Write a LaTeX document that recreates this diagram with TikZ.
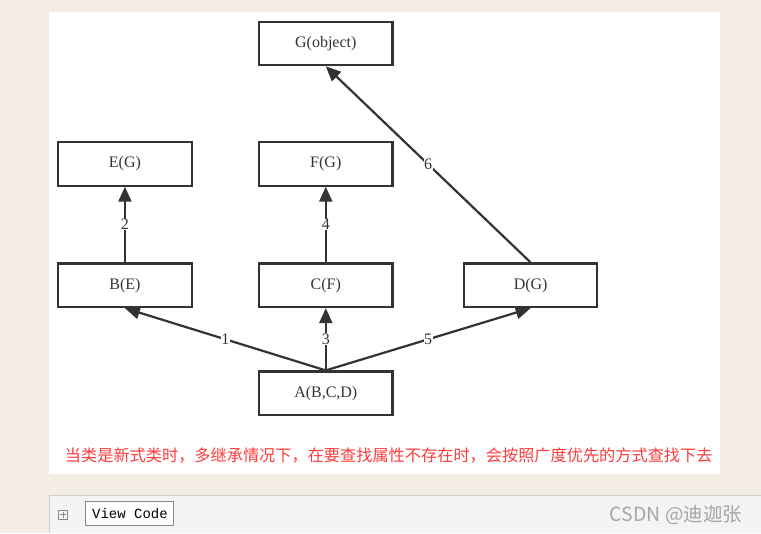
\documentclass[tikz,border=0pt]{standalone}
\usepackage{fontspec}
\setmainfont{Liberation Serif}
\setmonofont{Liberation Mono}
\newfontfamily\cjk{Noto Sans CJK SC}
\usetikzlibrary{arrows.meta}
\definecolor{pagebg}{HTML}{F4EDE4}
\definecolor{linedark}{HTML}{333333}
\definecolor{notered}{HTML}{FF3B3B}
\definecolor{barbg}{HTML}{F4F4F4}
\definecolor{barline}{HTML}{CCCCCC}
\definecolor{btnline}{HTML}{888888}
\definecolor{wmgray}{HTML}{A6A6A6}

\begin{document}
\begin{tikzpicture}[x=1pt,y=-1pt,
  cls/.style={rectangle,draw=linedark,fill=white,line width=2.2pt,minimum width=133.5pt,
              minimum height=43.5pt,inner sep=0pt,text=linedark,
              font=\fontsize{16}{19}\selectfont},
  arr/.style={-{Triangle[length=15pt,width=13pt]},line width=2.2pt,linedark},
  num/.style={fill=white,inner sep=0.5pt,text=linedark,font=\fontsize{16}{19}\selectfont}
]

%--- Page and panels ---
\fill[pagebg] (0,0) rectangle (761,533);
\fill[white] (49,12) rectangle (720,474);
\fill[barbg] (49,495) rectangle (761,533);
\draw[barline,line width=1pt] (49.5,533) -- (49.5,495.5) -- (761,495.5);

% ---- CLASSES ----
\node[cls] (G) at (326,43.5) {G(object)};
\node[cls] (E) at (125,164)  {E(G)};
\node[cls] (F) at (326,164)  {F(G)};
\node[cls] (B) at (125,285.5) {B(E)};
\node[cls] (C) at (326,285.5) {C(F)};
\node[cls] (D) at (531,285.5) {D(G)};
\node[cls] (A) at (326,393.5) {A(B,C,D)};

% ---- LOOKUP ORDER ----
\draw[arr] (A.north) -- node[num]{1} (B.south);
\draw[arr] (B.north) -- node[num]{2} (E.south);
\draw[arr] (A.north) -- node[num]{3} (C.south);
\draw[arr] (C.north) -- node[num]{4} (F.south);
\draw[arr] (A.north) -- node[num]{5} (D.south);
\draw[arr] (D.north) -- node[num]{6} (G.south);

% ---- NOTE ----
\node[text=notered,font=\cjk\fontsize{16.2}{20}\selectfont] (note) at (389,456)
  {当类是新式类时，多继承情况下，在要查找属性不存在时，会按照广度优先的方式查找下去};

% ---- CODE BAR ----
\node[draw=btnline,fill=barbg,line width=0.8pt,minimum size=9pt,inner sep=0pt] (expand) at (63,515) {};
\draw[btnline,line width=0.8pt] ([xshift=2pt]expand.west) -- ([xshift=-2pt]expand.east);
\draw[btnline,line width=0.8pt] ([yshift=-2pt]expand.north) -- ([yshift=2pt]expand.south);
\node[draw=btnline,fill=white,line width=1pt,minimum width=88pt,minimum height=24pt,
      inner sep=0pt,font=\ttfamily\fontsize{14}{16}\selectfont] (viewcode) at (130,514) {View Code};
\node[text=wmgray,font=\cjk\fontsize{19.5}{22}\selectfont,anchor=east] (mark) at (746,515) {CSDN @迪迦张};

\end{tikzpicture}
\end{document}
